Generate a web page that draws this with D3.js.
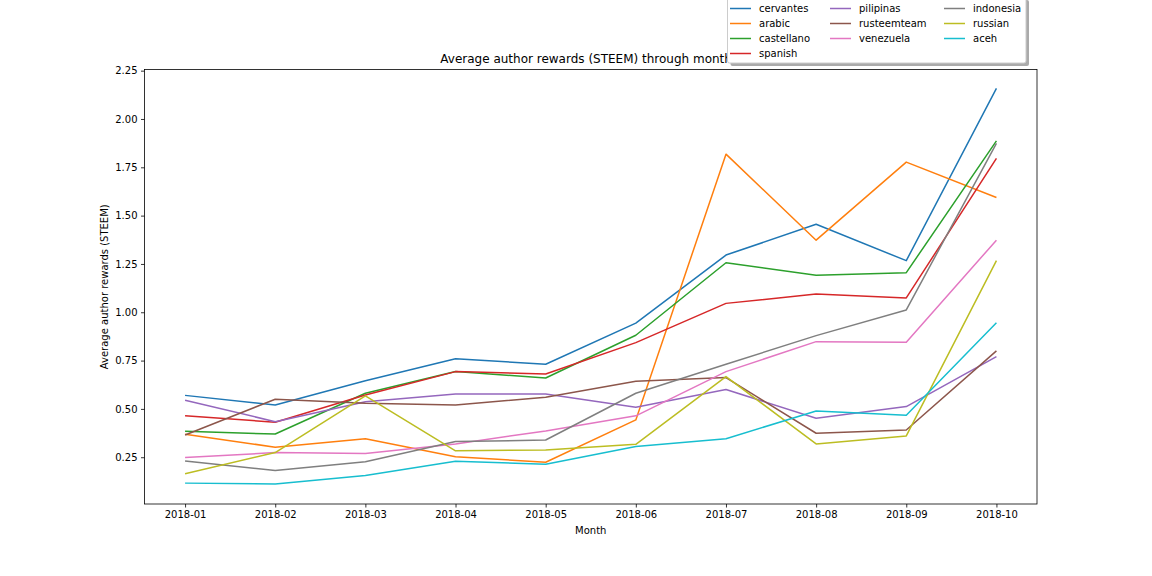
<!DOCTYPE html>
<html>
<head>
<meta charset="utf-8">
<script src="https://cdn.jsdelivr.net/npm/d3@7"></script>
<style>
    body { margin: 0; background: #fff; }
    text { font-family: 'DejaVu Sans', sans-serif; fill: #000; }
</style>
</head>
<body>
<div class="chart"></div>
<script>
// Data
const months = ['2018-01', '2018-02', '2018-03', '2018-04', '2018-05',
                '2018-06', '2018-07', '2018-08', '2018-09', '2018-10'];
const yTicks = [0.25, 0.5, 0.75, 1.0, 1.25, 1.5, 1.75, 2.0, 2.25];

const cervantes   = [0.570, 0.520, 0.646, 0.760, 0.731, 0.944, 1.296, 1.455, 1.267, 2.158];
const arabic      = [0.369, 0.302, 0.346, 0.253, 0.224, 0.443, 1.818, 1.373, 1.777, 1.594];
const castellano  = [0.384, 0.370, 0.581, 0.693, 0.660, 0.881, 1.256, 1.191, 1.205, 1.887];
const spanish     = [0.465, 0.431, 0.572, 0.693, 0.681, 0.843, 1.046, 1.094, 1.074, 1.796];
const pilipinas   = [0.545, 0.434, 0.537, 0.577, 0.577, 0.509, 0.600, 0.452, 0.512, 0.770];
const rusteemteam = [0.365, 0.550, 0.529, 0.520, 0.560, 0.643, 0.662, 0.374, 0.391, 0.800];
const venezuela   = [0.248, 0.274, 0.269, 0.319, 0.386, 0.464, 0.693, 0.848, 0.845, 1.373];
const indonesia   = [0.231, 0.181, 0.227, 0.331, 0.339, 0.581, 0.731, 0.879, 1.012, 1.874];
const russian     = [0.165, 0.274, 0.567, 0.283, 0.288, 0.317, 0.667, 0.319, 0.360, 1.267];
const aceh        = [0.116, 0.112, 0.155, 0.229, 0.214, 0.305, 0.346, 0.489, 0.467, 0.946];

const seriesNames = ['cervantes', 'arabic', 'castellano', 'spanish', 'pilipinas',
                     'rusteemteam', 'venezuela', 'indonesia', 'russian', 'aceh'];
const seriesValues = [cervantes, arabic, castellano, spanish, pilipinas,
                      rusteemteam, venezuela, indonesia, russian, aceh];
const colors = ['#1f77b4', '#ff7f0e', '#2ca02c', '#d62728', '#9467bd',
                '#8c564b', '#e377c2', '#7f7f7f', '#bcbd22', '#17becf'];

const series = seriesNames.map((name, i) => ({
    name: name,
    color: colors[i],
    values: seriesValues[i]
}));

// Layout
const svgWidth = 1152;
const svgHeight = 576;
const margin = { top: 69.5, right: 115, bottom: 72, left: 144.5 };
const width = svgWidth - margin.left - margin.right;
const height = svgHeight - margin.top - margin.bottom;

// Scales (matplotlib style 5% margins)
const xScale = d3.scaleLinear()
    .domain([-0.45, months.length - 1 + 0.45])
    .range([0, width]);

const yScale = d3.scaleLinear()
    .domain([0.008, 2.256])
    .range([height, 0]);

const svgRoot = d3.select('.chart')
    .append('svg')
    .attr('width', svgWidth)
    .attr('height', svgHeight);

const svg = svgRoot.append('g')
    .attr('transform', 'translate(' + margin.left + ',' + margin.top + ')');

// Lines
const line = d3.line()
    .x((d, i) => xScale(i))
    .y(d => yScale(d));

svg.selectAll('.series')
    .data(series)
    .enter()
    .append('path')
    .attr('class', 'series')
    .attr('d', d => line(d.values))
    .attr('fill', 'none')
    .attr('stroke', d => d.color)
    .attr('stroke-width', 1.5)
    .attr('stroke-linejoin', 'round');

// Axes
const xAxis = d3.axisBottom(xScale)
    .tickValues(d3.range(months.length))
    .tickFormat(i => months[i])
    .tickSizeInner(3.5)
    .tickSizeOuter(0)
    .tickPadding(3.5);

const xAxisDraw = svg.append('g')
    .attr('class', 'x axis')
    .attr('transform', 'translate(0,' + height + ')')
    .call(xAxis);

const yAxis = d3.axisLeft(yScale)
    .tickValues(yTicks)
    .tickFormat(d3.format('.2f'))
    .tickSizeInner(3.5)
    .tickSizeOuter(0)
    .tickPadding(3.5);

const yAxisDraw = svg.append('g')
    .attr('class', 'y axis')
    .call(yAxis);

[xAxisDraw, yAxisDraw].forEach(g => {
    g.select('.domain').remove();
    g.selectAll('text').style('font-size', '10px').style('font-family', 'DejaVu Sans');
    g.selectAll('line').attr('stroke', '#000').attr('stroke-width', 0.8);
});

// Frame
svg.append('rect')
    .attr('width', width)
    .attr('height', height)
    .attr('fill', 'none')
    .attr('stroke', '#000')
    .attr('stroke-width', 0.8);

// Titles
svg.append('text')
    .attr('x', width / 2 - 1.5)
    .attr('y', -7)
    .attr('text-anchor', 'middle')
    .style('font-size', '12px')
    .text('Average author rewards (STEEM) through months');

svg.append('text')
    .attr('x', width / 2)
    .attr('y', height + 30)
    .attr('text-anchor', 'middle')
    .style('font-size', '10px')
    .text('Month');

svg.append('text')
    .attr('transform', 'translate(-37,' + (height / 2) + ') rotate(-90)')
    .attr('text-anchor', 'middle')
    .style('font-size', '10px')
    .text('Average author rewards (STEEM)');

// Legend
const legendX = 727.5;
const legendY = -3;
const legendW = 298.5;
const legendH = 66;
const legend = svgRoot.append('g');

legend.append('rect')
    .attr('x', legendX + 3)
    .attr('y', legendY + 3)
    .attr('width', legendW)
    .attr('height', legendH)
    .attr('rx', 2)
    .attr('fill', '#aaa');

legend.append('rect')
    .attr('x', legendX)
    .attr('y', legendY)
    .attr('width', legendW)
    .attr('height', legendH)
    .attr('rx', 2)
    .attr('fill', '#fff')
    .attr('stroke', '#ccc')
    .attr('stroke-width', 1);

const colX = [730, 830, 944];
const colOf = i => (i < 4 ? 0 : i < 7 ? 1 : 2);
const rowOf = i => (i < 4 ? i : i < 7 ? i - 4 : i - 7);

const items = legend.selectAll('.legend-item')
    .data(series)
    .enter()
    .append('g')
    .attr('class', 'legend-item')
    .attr('transform', (d, i) => 'translate(' + colX[colOf(i)] + ',' + (8.5 + rowOf(i) * 15) + ')');

items.append('line')
    .attr('x1', 0)
    .attr('x2', 21)
    .attr('stroke', d => d.color)
    .attr('stroke-width', 1.5);

items.append('text')
    .attr('x', 29)
    .attr('dy', '0.35em')
    .style('font-size', '10px')
    .text(d => d.name);
</script>
</body>
</html>
